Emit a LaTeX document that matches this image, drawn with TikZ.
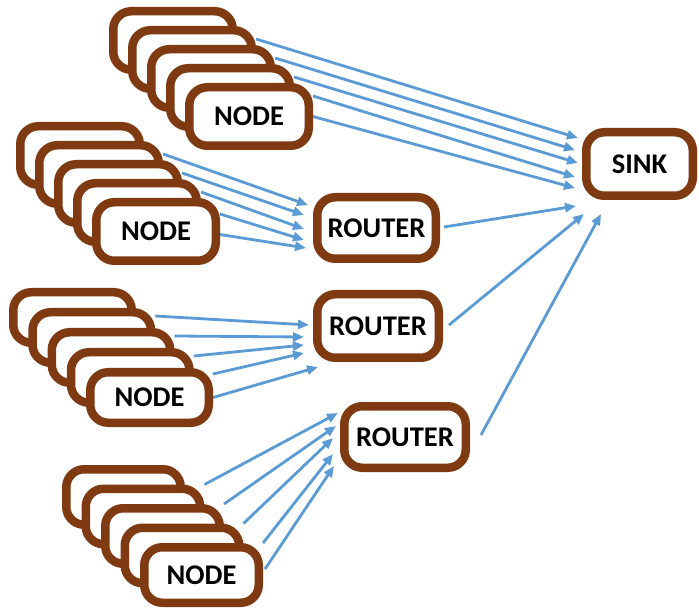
\documentclass[tikz,border=0pt]{standalone}
\usepackage{fontspec}
\setmainfont{Carlito}
\usetikzlibrary{arrows.meta,calc,backgrounds}
\definecolor{brn}{RGB}{128,58,18}
\definecolor{arr}{RGB}{91,155,213}
\tikzset{
  box/.style={draw=brn, line width=8.5pt, fill=white, rounded corners=18pt,
    inner sep=0pt, font=\fontsize{28.5pt}{32pt}\selectfont\bfseries, text=black},
  nodeA/.style={box, minimum width=119.5pt, minimum height=58.5pt},
  nodeC/.style={box, minimum width=118.5pt, minimum height=50.5pt},
  nodeD/.style={box, minimum width=114.5pt, minimum height=55.5pt},
  conn/.style={draw=arr, line width=2.8pt, -{Triangle[length=11pt,width=9pt]}},
}
\begin{document}
\begin{tikzpicture}[x=1pt,y=-1pt]
\useasboundingbox (0,0) rectangle (699,612);
% stack 1
\node[nodeA] (s1b0) at (173,40.5) {};
\node[nodeA] (s1b1) at (192,59.5) {};
\node[nodeA] (s1b2) at (211,78.5) {};
\node[nodeA] (s1b3) at (230,97.5) {};
\node[nodeA] (s1b4) at (249,116.5) {NODE};
% stack 2
\node[nodeA] (s2b0) at (80,155.5) {};
\node[nodeA] (s2b1) at (99,174.5) {};
\node[nodeA] (s2b2) at (118,193.5) {};
\node[nodeA] (s2b3) at (137,212.5) {};
\node[nodeA] (s2b4) at (156,231.5) {NODE};
% stack 3
\node[nodeC] (s3b0) at (72.5,317.5) {};
\node[nodeC] (s3b1) at (91.75,337.5) {};
\node[nodeC] (s3b2) at (111,357.5) {};
\node[nodeC] (s3b3) at (130.25,377.5) {};
\node[nodeC] (s3b4) at (149.5,397.5) {NODE};
% stack 4
\node[nodeD] (s4b0) at (123.5,497) {};
\node[nodeD] (s4b1) at (143,516.5) {};
\node[nodeD] (s4b2) at (162.5,536) {};
\node[nodeD] (s4b3) at (182,555.5) {};
\node[nodeD] (s4b4) at (201.5,575) {NODE};
% routers and sink
\node[box, minimum width=118.5pt, minimum height=61.5pt] (r1) at (376.5,228) {ROUTER};
\node[box, minimum width=121.5pt, minimum height=63.5pt] (r2) at (378,326) {ROUTER};
\node[box, minimum width=121.5pt, minimum height=61.5pt] (r3) at (405,437) {ROUTER};
\node[box, minimum width=106.5pt, minimum height=63.5pt] (sink) at (639.5,164) {SINK};

\begin{scope}[on background layer]
\fill[white] (0,0) rectangle (699,612);
% stack 1 -> sink
\draw[conn] ($(s1b1.north east)+(0,13)$) -- ($(sink.west)+(-4,-26)$);
\draw[conn] ($(s1b2.north east)+(0,13)$) -- ($(sink.west)+(-7,-14)$);
\draw[conn] ($(s1b3.north east)+(0,13)$) -- ($(sink.west)+(-4,-1)$);
\draw[conn] ($(s1b4.north east)+(0,13)$) -- ($(sink.west)+(-7,13)$);
\draw[conn] (s1b4.east) -- ($(sink.west)+(-7,24)$);
% stack 2 -> router 1
\draw[conn] ($(s2b1.north east)+(0,13)$) -- ($(r1.west)+(-5,-23)$);
\draw[conn] ($(s2b2.north east)+(0,13)$) -- ($(r1.west)+(-9,-13)$);
\draw[conn] ($(s2b3.north east)+(0,13)$) -- ($(r1.west)+(-9,1)$);
\draw[conn] ($(s2b4.north east)+(0,16)$) -- ($(r1.west)+(-9,12)$);
\draw[conn] ($(s2b4.east)+(0,3)$) -- ($(r1.west)+(-7,20)$);
% stack 3 -> router 2
\draw[conn] ($(s3b1.north east)+(0,8)$) -- ($(r2.west)+(-4,-1)$);
\draw[conn] ($(s3b2.north east)+(0,8)$) -- ($(r2.west)+(-9,11)$);
\draw[conn] ($(s3b3.north east)+(0,8)$) -- ($(r2.west)+(-9,19)$);
\draw[conn] ($(s3b4.north east)+(0,6)$) -- ($(r2.west)+(-9,27)$);
\draw[conn] (s3b4.east) -- ($(r2.south west)+(5,5)$);
% stack 4 -> router 3
\draw[conn] (s4b1.north east) -- ($(r3.west)+(-2,-24)$);
\draw[conn] (s4b2.north east) -- ($(r3.west)+(-4,-11)$);
\draw[conn] (s4b3.north east) -- ($(r3.west)+(-7,1)$);
\draw[conn] (s4b4.north east) -- ($(r3.west)+(-7,17)$);
\draw[conn] ($(s4b4.east)+(2,-6)$) -- ($(r3.west)+(-6,29)$);
% routers -> sink
\draw[conn] ($(r1.east)+(4,-1)$) -- ($(sink.south west)+(-6,6)$);
\draw[conn] ($(r2.east)+(6,-1)$) -- ($(sink.south west)+(2,14)$);
\draw[conn] ($(r3.east)+(11,-2)$) -- ($(sink.south west)+(19,14)$);
\end{scope}
\end{tikzpicture}
\end{document}
